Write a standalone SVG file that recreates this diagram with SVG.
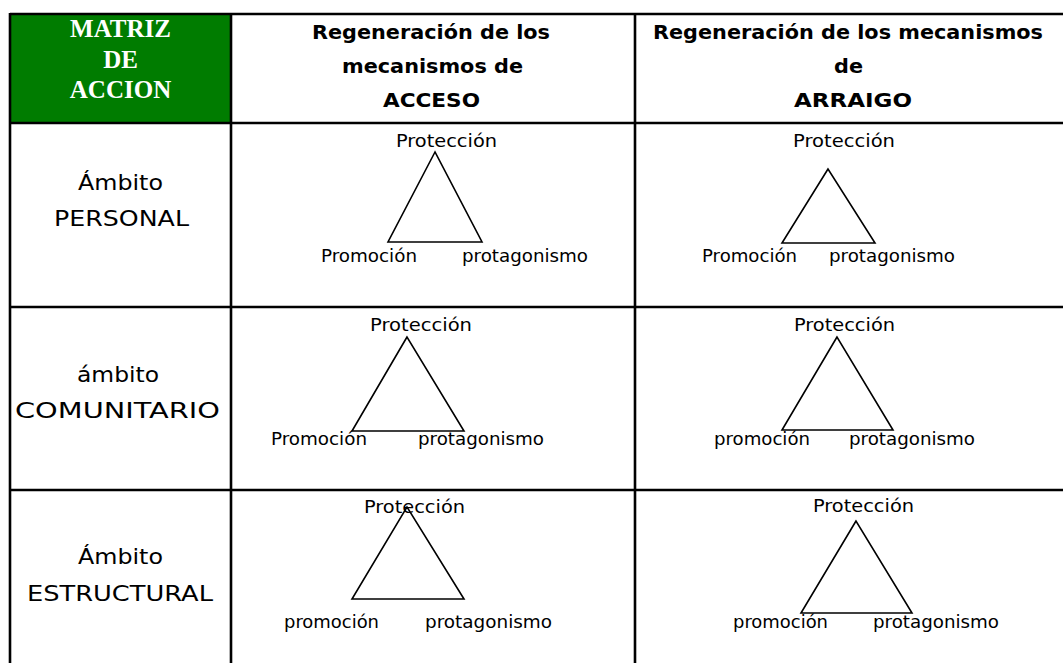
<svg xmlns="http://www.w3.org/2000/svg" width="1063" height="663" viewBox="0 0 1063 663">
<style>
.grid{stroke:#000;stroke-width:2.6;fill:none}
.tri{stroke:#000;stroke-width:1.6;fill:none;stroke-linejoin:miter}
.lbl{font-family:"DejaVu Sans","Noto Sans",sans-serif;font-size:17.5px;fill:#000}
.row{font-family:"DejaVu Sans","Noto Sans",sans-serif;font-size:21px;fill:#000}
.hd{font-family:"DejaVu Sans","Noto Sans",sans-serif;font-size:20px;font-weight:bold;fill:#000}
.mx{font-family:"Liberation Serif","Times New Roman",serif;font-size:25px;font-weight:bold;fill:#fff;text-anchor:middle}
</style>
<rect x="0" y="0" width="1063" height="663" fill="#fff"/>
<rect x="10" y="14" width="221" height="109" fill="#007c00"/>
<g id="grid" class="grid">
<line x1="10" y1="14" x2="1063" y2="14"/>
<line x1="10" y1="123" x2="1063" y2="123"/>
<line x1="10" y1="307" x2="1063" y2="307"/>
<line x1="10" y1="490" x2="1063" y2="490"/>
<line x1="10" y1="13" x2="10" y2="663"/>
<line x1="231" y1="13" x2="231" y2="663"/>
<line x1="635" y1="13" x2="635" y2="663"/>
</g>
<g id="header-matriz">
<text class="mx" x="120.5" y="37">MATRIZ</text>
<text class="mx" x="120.5" y="68">DE</text>
<text class="mx" x="120.5" y="98">ACCION</text>
</g>
<g id="header-acceso">
<text class="hd" x="312" y="39" textLength="238" lengthAdjust="spacingAndGlyphs">Regeneración de los</text>
<text class="hd" x="342" y="73" textLength="181" lengthAdjust="spacingAndGlyphs">mecanismos de</text>
<text class="hd" x="383" y="107" textLength="97" lengthAdjust="spacingAndGlyphs">ACCESO</text>
</g>
<g id="header-arraigo">
<text class="hd" x="653" y="39" textLength="390" lengthAdjust="spacingAndGlyphs">Regeneración de los mecanismos</text>
<text class="hd" x="834" y="73" textLength="29" lengthAdjust="spacingAndGlyphs">de</text>
<text class="hd" x="794" y="107" textLength="118" lengthAdjust="spacingAndGlyphs">ARRAIGO</text>
</g>
<g id="row-personal">
<text class="row" x="78" y="190" textLength="85" lengthAdjust="spacingAndGlyphs">Ámbito</text>
<text class="row" x="54" y="226" textLength="135" lengthAdjust="spacingAndGlyphs">PERSONAL</text>
</g>
<g id="row-comunitario">
<text class="row" x="77" y="382" textLength="82" lengthAdjust="spacingAndGlyphs">ámbito</text>
<text class="row" x="15" y="418" textLength="205" lengthAdjust="spacingAndGlyphs">COMUNITARIO</text>
</g>
<g id="row-estructural">
<text class="row" x="78" y="564" textLength="85" lengthAdjust="spacingAndGlyphs">Ámbito</text>
<text class="row" x="27" y="601" textLength="186" lengthAdjust="spacingAndGlyphs">ESTRUCTURAL</text>
</g>
<g id="personal-acceso">
<polygon class="tri" points="435,152 388,242 482,242"/>
<text class="lbl" x="396" y="147" textLength="101" lengthAdjust="spacingAndGlyphs">Protección</text>
<text class="lbl" x="321" y="262" textLength="96" lengthAdjust="spacingAndGlyphs">Promoción</text>
<text class="lbl" x="462" y="262" textLength="126" lengthAdjust="spacingAndGlyphs">protagonismo</text>
</g>
<g id="personal-arraigo">
<polygon class="tri" points="828,169 782,243 875,243"/>
<text class="lbl" x="793" y="147" textLength="102" lengthAdjust="spacingAndGlyphs">Protección</text>
<text class="lbl" x="702" y="262" textLength="95" lengthAdjust="spacingAndGlyphs">Promoción</text>
<text class="lbl" x="829" y="262" textLength="126" lengthAdjust="spacingAndGlyphs">protagonismo</text>
</g>
<g id="comunitario-acceso">
<polygon class="tri" points="407,337 352,431 464,431"/>
<text class="lbl" x="370" y="331" textLength="102" lengthAdjust="spacingAndGlyphs">Protección</text>
<text class="lbl" x="271" y="445" textLength="96" lengthAdjust="spacingAndGlyphs">Promoción</text>
<text class="lbl" x="418" y="445" textLength="126" lengthAdjust="spacingAndGlyphs">protagonismo</text>
</g>
<g id="comunitario-arraigo">
<polygon class="tri" points="837,337 782,430 893,430"/>
<text class="lbl" x="794" y="331" textLength="101" lengthAdjust="spacingAndGlyphs">Protección</text>
<text class="lbl" x="714" y="445" textLength="96" lengthAdjust="spacingAndGlyphs">promoción</text>
<text class="lbl" x="849" y="445" textLength="126" lengthAdjust="spacingAndGlyphs">protagonismo</text>
</g>
<g id="estructural-acceso">
<polygon class="tri" points="407,507 352,599 464,599"/>
<text class="lbl" x="364" y="513" textLength="101" lengthAdjust="spacingAndGlyphs">Protección</text>
<text class="lbl" x="284" y="628" textLength="95" lengthAdjust="spacingAndGlyphs">promoción</text>
<text class="lbl" x="425" y="628" textLength="127" lengthAdjust="spacingAndGlyphs">protagonismo</text>
</g>
<g id="estructural-arraigo">
<polygon class="tri" points="856,521 801,613 912,613"/>
<text class="lbl" x="813" y="512" textLength="101" lengthAdjust="spacingAndGlyphs">Protección</text>
<text class="lbl" x="733" y="628" textLength="95" lengthAdjust="spacingAndGlyphs">promoción</text>
<text class="lbl" x="873" y="628" textLength="126" lengthAdjust="spacingAndGlyphs">protagonismo</text>
</g>
</svg>
